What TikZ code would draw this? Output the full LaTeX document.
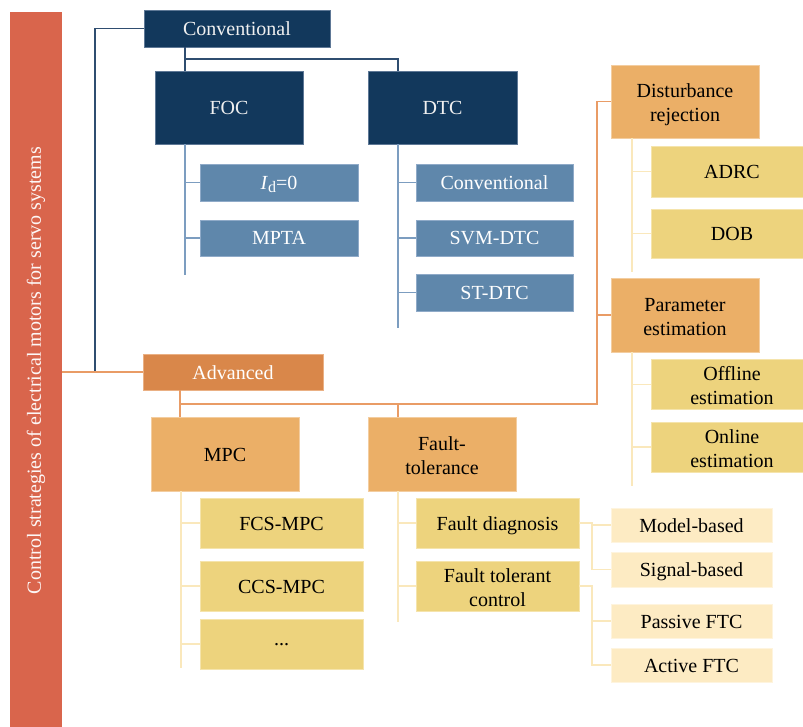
\documentclass[tikz,border=0pt]{standalone}
\usepackage{fontspec}
\setmainfont{Liberation Serif}
\definecolor{barred}{HTML}{D9654C}
\definecolor{navy}{HTML}{12385C}
\definecolor{navyedge}{HTML}{5E7896}
\definecolor{navyline}{HTML}{2F4D70}
\definecolor{steel}{HTML}{5F87AB}
\definecolor{steeledge}{HTML}{8FAAC8}
\definecolor{steelline}{HTML}{7C9DC0}
\definecolor{advfill}{HTML}{D9874A}
\definecolor{advedge}{HTML}{EAB084}
\definecolor{advline}{HTML}{E99C66}
\definecolor{orfill}{HTML}{EBAF67}
\definecolor{oredge}{HTML}{F3CDA0}
\definecolor{yefill}{HTML}{EDD37D}
\definecolor{yeedge}{HTML}{F5E4AC}
\definecolor{palefill}{HTML}{FDEBC3}
\definecolor{paleedge}{HTML}{FEF4DE}
\definecolor{paleline}{HTML}{FAE8BC}
% struts that fix the first and last line of two-line labels
\newcommand\firstln{\rule{0pt}{21pt}}
\newcommand\lastln{\rule[-4.3pt]{0pt}{4.3pt}}
\tikzset{
  every node/.style={font=\fontsize{20}{24}\selectfont, align=center, inner sep=0pt},
  sz/.style 2 args={minimum width=#1, minimum height=#2},
  one/.style={text height=18pt, text depth=4pt},
  navybox/.style={fill=navy, draw=navyedge, line width=0.8pt, text=white!94!black},
  steelbox/.style={fill=steel, draw=steeledge, line width=0.8pt, text=white},
  advbox/.style={fill=advfill, draw=advedge, line width=0.8pt, text=white},
  orbox/.style={fill=orfill, draw=oredge, line width=0.8pt, text=black},
  yebox/.style={fill=yefill, draw=yeedge, line width=0.8pt, text=black},
  palebox/.style={fill=palefill, draw=paleedge, line width=0.8pt, text=black},
  nline/.style={draw=navyline, line width=1.4pt},
  sline/.style={draw=steelline, line width=1.2pt},
  aline/.style={draw=advline, line width=1.3pt},
  pline/.style={draw=paleline, line width=1.2pt},
}
\begin{document}
\begin{tikzpicture}[x=1pt, y=-1pt]
\useasboundingbox (0,0) rectangle (803,727);
\clip (0,0) rectangle (803,727);

% side bar with the title
\node[fill=barred, sz={52}{715}] (bar) at (36,369.5) {};
\node[rotate=90, text=white!95!barred] (title) at (36,370.5)
  {Control strategies of electrical motors for servo systems};

% conventional branch
\node[navybox, one, sz={186}{37}] (conv) at (237,28.5) {Conventional};
\node[navybox, one, sz={148}{73}] (foc) at (229,107.5) {FOC};
\node[navybox, one, sz={149}{73}] (dtc) at (442.5,107.5) {DTC};
\node[steelbox, one, sz={158}{37}] (id0) at (279,182.5)
  {\textit{I}\raisebox{-0.35ex}{\fontsize{16}{16}\selectfont d}=0};
\node[steelbox, one, sz={158}{36}] (mpta) at (279,238) {MPTA};
\node[steelbox, one, sz={157}{37}] (dconv) at (494.5,182.5) {Conventional};
\node[steelbox, one, sz={157}{36}] (svm) at (494.5,238) {SVM-DTC};
\node[steelbox, one, sz={157}{37}] (st) at (494.5,292.5) {ST-DTC};

% advanced branch
\node[advbox, one, sz={180}{36}] (adv) at (233,372) {Advanced};
\node[orbox, one, sz={148}{74}] (mpc) at (225,454) {MPC};
\node[orbox, sz={148}{74}] (ft) at (442,454) {\firstln Fault-\\tolerance\lastln};
\node[orbox, sz={148}{73}] (dist) at (685,101.5) {\firstln Disturbance\\rejection\lastln};
\node[orbox, sz={148}{74}] (param) at (685,315) {\firstln Parameter\\estimation\lastln};

\node[yebox, one, sz={162}{51}] (adrc) at (732,171.5) {ADRC};
\node[yebox, one, sz={162}{49}] (dob) at (732,233.5) {DOB};
\node[yebox, sz={162}{49}] (off) at (732,384.5) {\firstln Offline\\estimation\lastln};
\node[yebox, sz={162}{50}] (on) at (732,447) {\firstln Online\\estimation\lastln};

\node[yebox, one, sz={163}{50}] (fcs) at (281.5,523) {FCS-MPC};
\node[yebox, one, sz={163}{50}] (ccs) at (281.5,586) {CCS-MPC};
\node[yebox, sz={163}{50}] (more) at (281.5,644) {\raisebox{-4pt}{...}};
\node[yebox, one, sz={163}{50}] (fd) at (497.5,523) {Fault diagnosis};
\node[yebox, sz={163}{50}] (ftc) at (497.5,586) {\firstln Fault tolerant\\control\lastln};

\node[palebox, one, sz={161}{34}] (model) at (691.5,525) {Model-based};
\node[palebox, one, sz={161}{35}] (signal) at (691.5,569.5) {Signal-based};
\node[palebox, one, sz={161}{34}] (passive) at (691.5,621) {Passive FTC};
\node[palebox, one, sz={161}{34}] (active) at (691.5,665) {Active FTC};

% trunk positions of the tree connectors
\coordinate (ctrunk) at (95,372);
\coordinate (ftrunk) at (185,0);
\coordinate (dtrunk) at (398,0);
\coordinate (cfork) at (0,59);
\coordinate (atrunk) at (180,0);
\coordinate (afork) at (0,404);
\coordinate (rtrunk) at (597,0);
\coordinate (qtrunk) at (632,0);
\coordinate (mtrunk) at (181,0);
\coordinate (gtrunk) at (592,0);
\coordinate (fend) at (0,275);
\coordinate (dend) at (0,328);
\coordinate (qend1) at (0,272);
\coordinate (qend2) at (0,486);
\coordinate (mend) at (0,668);
\coordinate (tend) at (0,622);

% connectors of the conventional branch
\draw[nline] (conv.west) -| (ctrunk);
\draw[nline] (conv.south -| ftrunk) -- (foc.north -| ftrunk);
\draw[nline] (ftrunk |- cfork) -| (dtc.north -| dtrunk);
\draw[sline] (foc.south -| ftrunk) -- (ftrunk |- fend);
\draw[sline] (id0.west) -- (id0.west -| ftrunk);
\draw[sline] (mpta.west) -- (mpta.west -| ftrunk);
\draw[sline] (dtc.south -| dtrunk) -- (dtrunk |- dend);
\draw[sline] (dconv.west) -- (dconv.west -| dtrunk);
\draw[sline] (svm.west) -- (svm.west -| dtrunk);
\draw[sline] (st.west) -- (st.west -| dtrunk);

% connectors of the advanced branch
\draw[aline] (bar.east |- adv.west) -- (adv.west);
\draw[aline] (adv.south -| atrunk) -- (mpc.north -| atrunk);
\draw[aline] (atrunk |- afork) -- (rtrunk |- afork) |- (dist.west);
\draw[aline] (rtrunk |- param.west) -- (param.west);
\draw[aline] (ft.north -| dtrunk) -- (dtrunk |- afork);

\draw[pline] (dist.south -| qtrunk) -- (qtrunk |- qend1);
\draw[pline] (adrc.west) -- (adrc.west -| qtrunk);
\draw[pline] (dob.west) -- (dob.west -| qtrunk);
\draw[pline] (param.south -| qtrunk) -- (qtrunk |- qend2);
\draw[pline] (off.west) -- (off.west -| qtrunk);
\draw[pline] (on.west) -- (on.west -| qtrunk);

\draw[pline] (mpc.south -| mtrunk) -- (mtrunk |- mend);
\draw[pline] (fcs.west) -- (fcs.west -| mtrunk);
\draw[pline] (ccs.west) -- (ccs.west -| mtrunk);
\draw[pline] (more.west) -- (more.west -| mtrunk);
\draw[pline] (ft.south -| dtrunk) -- (dtrunk |- tend);
\draw[pline] (fd.west) -- (fd.west -| dtrunk);
\draw[pline] (ftc.west) -- (ftc.west -| dtrunk);

\draw[pline] (fd.east) -| (gtrunk |- signal.west) -- (signal.west);
\draw[pline] (gtrunk |- model.west) -- (model.west);
\draw[pline] (ftc.east) -| (gtrunk |- active.west) -- (active.west);
\draw[pline] (gtrunk |- passive.west) -- (passive.west);
\end{tikzpicture}
\end{document}
